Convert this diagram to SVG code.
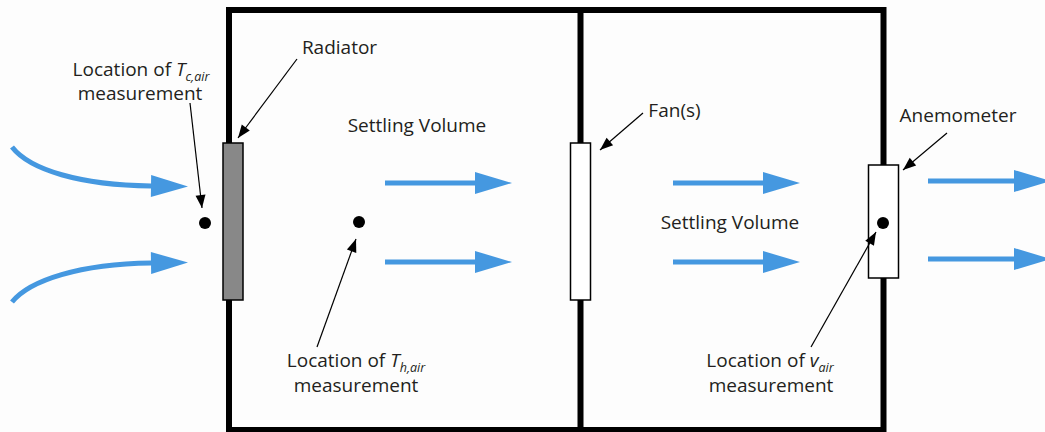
<svg xmlns="http://www.w3.org/2000/svg" width="1045" height="432" viewBox="0 0 1045 432">
  <style>
    .lbl { font-family: "Open Sans", "Liberation Sans", sans-serif; font-size: 19px; fill: #231f20; text-anchor: middle; }
    .it { font-style: italic; }
    .sub { font-style: italic; font-size: 12.5px; }
    .wall { fill: none; stroke: #000; stroke-width: 6; }
    .flow { fill: none; stroke: #4598e0; stroke-width: 5; marker-end: url(#blueHead); }
    .leader { fill: none; stroke: #000; stroke-width: 1.2; marker-end: url(#blackHead); }
    .dot { fill: #000; }
  </style>
  <defs>
    <marker id="blueHead" markerUnits="userSpaceOnUse" markerWidth="38" markerHeight="22" refX="0" refY="11" orient="auto" overflow="visible">
      <path d="M0,0 L37,11 L0,22 Z" fill="#4598e0"/>
    </marker>
    <marker id="blackHead" markerUnits="userSpaceOnUse" markerWidth="14" markerHeight="10" refX="13" refY="5" orient="auto" overflow="visible">
      <path d="M0,0 L13,5 L0,10 Z" fill="#000"/>
    </marker>
  </defs>
  <rect x="0" y="0" width="1045" height="432" fill="#fdfdfd"/>

  <g id="enclosure">
    <rect class="wall" x="229" y="10" width="654.5" height="420"/>
    <line class="wall" x1="580.5" y1="10" x2="580.5" y2="430"/>
  </g>

  <g id="radiator">
    <rect x="223" y="143" width="20" height="157" fill="#888" stroke="#000" stroke-width="1.5"/>
  </g>
  <g id="fan">
    <rect x="570.5" y="143" width="20" height="157" fill="#fff" stroke="#000" stroke-width="1.5"/>
  </g>
  <g id="anemometer">
    <rect x="868.5" y="165" width="30" height="113" fill="#fff" stroke="#000" stroke-width="1.5"/>
    <circle class="dot" cx="883" cy="223" r="6"/>
  </g>
  <g id="tc-point">
    <circle class="dot" cx="205" cy="223" r="6"/>
  </g>
  <g id="th-point">
    <circle class="dot" cx="359" cy="222" r="6"/>
  </g>

  <g id="connectors">
    <path class="flow" d="M12,147 C30,170 80,185 151,186"/>
    <path class="flow" d="M12,302 C30,280 80,264 151,263"/>
    <line class="flow" x1="385" y1="183" x2="475" y2="183"/>
    <line class="flow" x1="385" y1="262" x2="475" y2="262"/>
    <line class="flow" x1="673" y1="183" x2="763" y2="183"/>
    <line class="flow" x1="673" y1="262" x2="763" y2="262"/>
    <line class="flow" x1="928" y1="181" x2="1014" y2="181"/>
    <line class="flow" x1="928" y1="259" x2="1014" y2="259"/>

    <line class="leader" x1="190" y1="103" x2="202" y2="208"/>
    <line class="leader" x1="297" y1="59" x2="238" y2="138"/>
    <line class="leader" x1="317" y1="347" x2="356" y2="239"/>
    <line class="leader" x1="643" y1="113" x2="600" y2="150"/>
    <line class="leader" x1="947" y1="133" x2="903" y2="170"/>
    <line class="leader" x1="811" y1="347" x2="876" y2="232"/>
  </g>

  <g id="label-tc">
    <text class="lbl" x="141" y="76">Location of <tspan class="it">T</tspan><tspan class="sub" dy="5">c,air</tspan></text>
    <text class="lbl" x="140" y="100">measurement</text>
  </g>
  <g id="label-radiator">
    <text class="lbl" x="339.5" y="54">Radiator</text>
  </g>
  <g id="label-settling-1">
    <text class="lbl" x="417" y="132">Settling Volume</text>
  </g>
  <g id="label-fan">
    <text class="lbl" x="674.5" y="117">Fan(s)</text>
  </g>
  <g id="label-settling-2">
    <text class="lbl" x="730" y="229">Settling Volume</text>
  </g>
  <g id="label-anemometer">
    <text class="lbl" x="958" y="122">Anemometer</text>
  </g>
  <g id="label-th">
    <text class="lbl" x="356" y="367">Location of <tspan class="it">T</tspan><tspan class="sub" dy="5">h,air</tspan></text>
    <text class="lbl" x="356" y="392">measurement</text>
  </g>
  <g id="label-vair">
    <text class="lbl" x="770" y="367">Location of <tspan class="it">v</tspan><tspan class="sub" dy="5">air</tspan></text>
    <text class="lbl" x="771" y="392">measurement</text>
  </g>
</svg>
